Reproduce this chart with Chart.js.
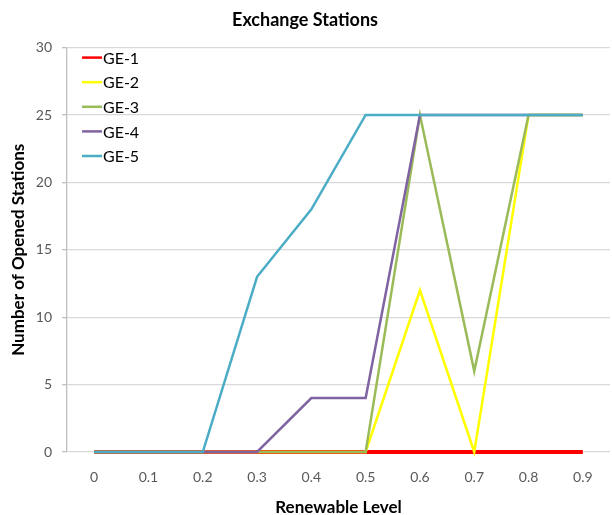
<!DOCTYPE html>
<html><head><meta charset="utf-8">
<script src="https://cdn.jsdelivr.net/npm/chart.js@4.4.0/dist/chart.umd.min.js"></script>
<style>html,body{margin:0;padding:0;background:#fff}</style>
</head><body>
<canvas id="c" width="612" height="515"></canvas>
<script>
// Renewable level categories and opened exchange stations per scenario
const levels = ['0', '0.1', '0.2', '0.3', '0.4', '0.5', '0.6', '0.7', '0.8', '0.9'];
const ge1 = [0, 0, 0, 0, 0, 0, 0, 0, 0, 0];
const ge2 = [0, 0, 0, 0, 0, 0, 12, 0, 25, 25];
const ge3 = [0, 0, 0, 0, 0, 0, 25, 6, 25, 25];
const ge4 = [0, 0, 0, 0, 4, 4, 25, 25, 25, 25];
const ge5 = [0, 0, 0, 13, 18, 25, 25, 25, 25, 25];
const seriesNames = ['GE-1', 'GE-2', 'GE-3', 'GE-4', 'GE-5'];
const yTicks = [0, 5, 10, 15, 20, 25, 30];

const FONT = 'Lato, "Open Sans", "Liberation Sans", sans-serif';
const colors = ['#ff0000', '#ffff00', '#9bbb59', '#8064a2', '#4bacc6'];
const widths = [4, 2.5, 2.5, 2.5, 2.5];
const values = [ge1, ge2, ge3, ge4, ge5];

const datasets = seriesNames.map((name, i) => ({
  label: name,
  data: values[i],
  borderColor: colors[i],
  backgroundColor: colors[i],
  borderWidth: widths[i],
  pointRadius: 0,
  tension: 0,
  fill: false,
  clip: false,                      // keep the full stroke of lines lying on the zero axis
  order: seriesNames.length - i     // later series are painted over earlier ones
}));

// Legend drawn inside the plot area, top-left
const insideLegend = {
  id: 'insideLegend',
  afterDraw(chart) {
    const ctx = chart.ctx;
    const area = chart.chartArea;
    ctx.save();
    ctx.font = '16px ' + FONT;
    ctx.textBaseline = 'middle';
    ctx.fillStyle = '#000';
    chart.data.datasets.forEach((ds, i) => {
      const y = area.top + 10 + i * 24.6;
      const x0 = area.left + 15;
      ctx.strokeStyle = ds.borderColor;
      ctx.lineWidth = 2.5;
      ctx.beginPath();
      ctx.moveTo(x0, y);
      ctx.lineTo(x0 + 20, y);
      ctx.stroke();
      ctx.fillText(ds.label, x0 + 21, y + 1);
    });
    ctx.restore();
  }
};

new Chart(document.getElementById('c'), {
  type: 'line',
  data: { labels: levels, datasets },
  options: {
    responsive: false,
    animation: false,
    layout: { padding: { top: 0, right: 2, bottom: 0, left: 0 } },
    plugins: {
      legend: { display: false },
      tooltip: { enabled: false },
      title: {
        display: true,
        text: 'Exchange Stations',
        color: '#000',
        font: { family: FONT, size: 18, weight: 'bold' },
        padding: { top: 9, bottom: 17 }
      }
    },
    scales: {
      x: {
        type: 'category',
        offset: true,
        grid: { display: false, drawTicks: false },
        border: { display: false },
        ticks: { color: '#595959', font: { family: FONT, size: 14 }, padding: 17, maxRotation: 0 },
        title: {
          display: true,
          text: 'Renewable Level',
          color: '#000',
          font: { family: FONT, size: 17, weight: 'bold' },
          padding: { top: 0, bottom: -3 }
        },
        afterFit(scale) { scale.height = 63; }
      },
      y: {
        min: 0,
        max: 30,
        afterBuildTicks(scale) { scale.ticks = yTicks.map(v => ({ value: v })); },
        grid: { color: '#d9d9d9', lineWidth: 1.3, tickLength: 5, tickColor: '#bfbfbf' },
        border: { display: true, color: '#bfbfbf', width: 1.3 },
        ticks: { color: '#595959', font: { family: FONT, size: 14 }, padding: 10 },
        title: {
          display: true,
          text: 'Number of Opened Stations',
          color: '#000',
          font: { family: FONT, size: 17, weight: 'bold' },
          padding: { top: 8, bottom: 0 }
        },
        afterFit(scale) { scale.width = 67; }
      }
    }
  },
  plugins: [insideLegend]
});
</script>
</body></html>
